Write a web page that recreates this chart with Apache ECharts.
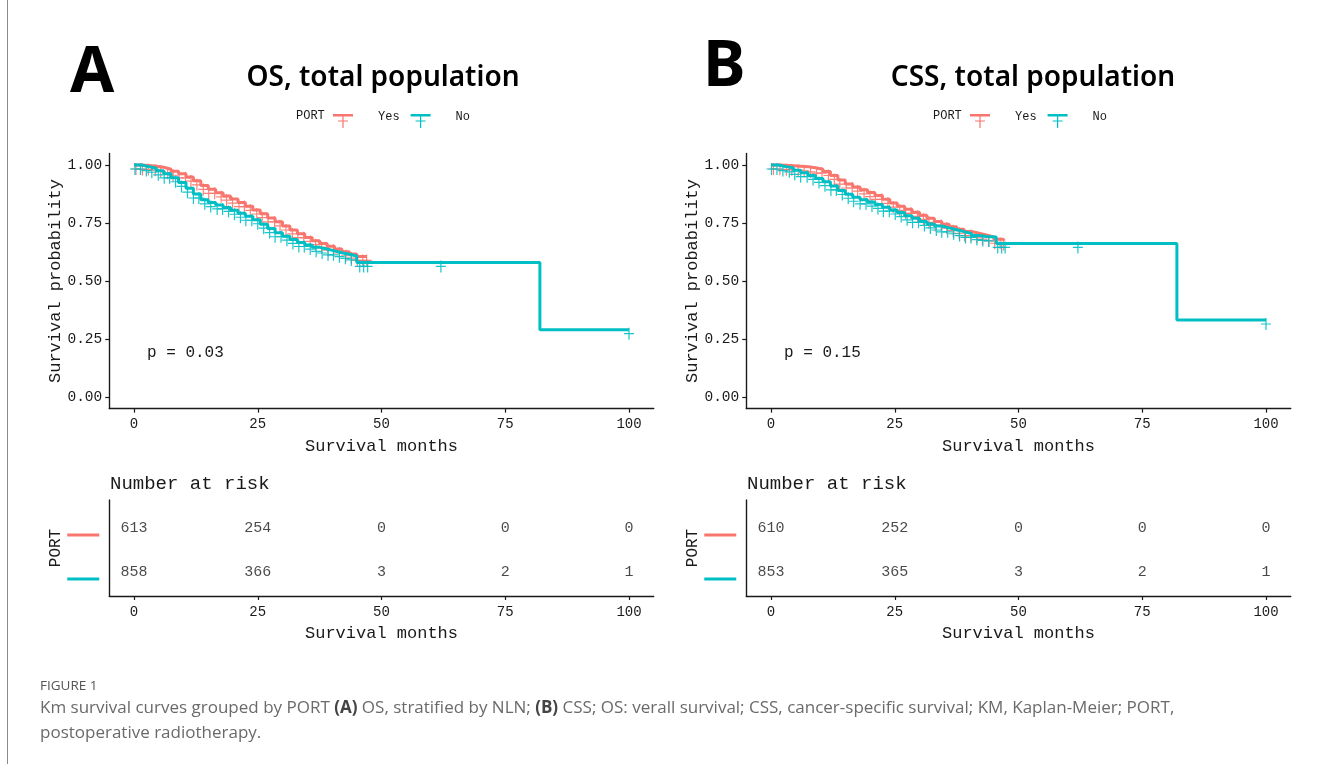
<!DOCTYPE html>
<html><head><meta charset="utf-8">
<script src="https://cdn.jsdelivr.net/npm/echarts@6/dist/echarts.min.js"></script>
<style>html,body{margin:0;padding:0;background:#fff}#c{width:1329px;height:764px}</style>
</head><body><div id="c"></div>
<script>
// ---- data ----
const monthTicks = [0, 25, 50, 75, 100];
const survTicks = [0, 0.25, 0.5, 0.75, 1];
const groups = ['Yes', 'No'];

const osYes = [[0,1],[1.5,0.998],[3,0.995],[4.5,0.99],[6,0.982],[7.5,0.973],[9,0.962],[10.5,0.948],[12,0.932],[13.5,0.912],[15,0.895],[16.5,0.88],[18,0.866],[19.5,0.853],[21,0.838],[22.5,0.822],[24,0.806],[25.5,0.79],[27,0.772],[28.5,0.755],[30,0.737],[31.5,0.72],[33,0.704],[34.5,0.688],[36,0.674],[37.5,0.662],[39,0.65],[40.5,0.638],[42,0.626],[43.5,0.616],[45,0.606],[47,0.606]];
const osNo = [[0,1],[1.5,0.993],[3,0.986],[4.5,0.975],[6,0.962],[7.5,0.945],[9,0.925],[10.5,0.9],[12,0.875],[13.5,0.85],[15,0.838],[16.5,0.828],[18,0.817],[19.5,0.805],[21,0.792],[22.5,0.779],[24,0.764],[25.5,0.745],[27,0.726],[28.5,0.708],[30,0.693],[31.5,0.679],[33,0.666],[34.5,0.655],[36,0.645],[37.5,0.638],[39,0.63],[40.5,0.622],[42,0.615],[43.5,0.608],[45,0.58],[82,0.29],[100,0.29]];
const cssYes = [[0,1],[1.5,0.999],[3,0.997],[4.5,0.995],[6,0.992],[7.5,0.988],[9,0.982],[10.5,0.972],[12,0.955],[13.5,0.935],[15,0.918],[16.5,0.905],[18,0.893],[19.5,0.881],[21,0.869],[22.5,0.852],[24,0.836],[25.5,0.822],[27,0.809],[28.5,0.796],[30,0.783],[31.5,0.77],[33,0.757],[34.5,0.745],[36,0.734],[37.5,0.723],[39,0.713],[40.5,0.706],[42,0.698],[43.5,0.69],[45,0.68],[47,0.674]];
const cssNo = [[0,1],[1.5,0.993],[3,0.988],[4.5,0.977],[6,0.967],[7.5,0.955],[9,0.942],[10.5,0.928],[12,0.91],[13.5,0.89],[15,0.874],[16.5,0.861],[18,0.85],[19.5,0.84],[21,0.83],[22.5,0.818],[24,0.806],[25.5,0.795],[27,0.781],[28.5,0.77],[30,0.757],[31.5,0.746],[33,0.737],[34.5,0.729],[36,0.721],[37.5,0.713],[39,0.705],[40.5,0.696],[42,0.692],[43.5,0.69],[45.5,0.662],[82,0.332],[100,0.332]];

const osYesCensor = [0.4,1.7,2.9,4.3,5.4,6.8,7.9,9.1,10.4,11.5,12.7,14,15.1,16.3,17.6,18.7,19.9,21.2,22.3,23.5,24.8,25.9,27.1,28.4,29.5,30.7,32,33.1,34.3,35.6,36.7,37.9,39.2,40.3,41.5,42.8,43.9,45.1,46.2,47];
const osNoCensor = [0.2,1.3,2.5,3.6,4.9,6.1,7.2,8.4,9.6,10.8,12,13.1,14.3,15.5,16.8,17.9,19.1,20.3,21.5,22.6,23.8,25,26.2,27.4,28.5,29.7,30.9,32.1,33.3,34.4,35.6,36.8,38,39.2,40.3,41.5,42.7,43.9,45.6,46.4,47.2,62,100];
const cssYesCensor = [0.5,1.8,3.1,4.2,5.5,6.7,8,9.2,10.3,11.6,12.8,13.9,15.2,16.4,17.5,18.8,20,21.1,22.4,23.6,24.7,26,27.2,28.3,29.6,30.8,31.9,33.2,34.4,35.5,36.8,38,39.1,40.4,41.6,42.7,44,45.2,46.3,47];
const cssNoCensor = [0.1,1.2,2.4,3.7,4.8,6,7.3,8.5,9.7,10.9,12.1,13.2,14.4,15.6,16.7,18,19.2,20.4,21.6,22.7,23.9,25.1,26.3,27.5,28.6,29.8,31,32.2,33.4,34.5,35.7,36.9,38.1,39.3,40.4,41.6,42.8,44,45.8,46.6,47.3,62,100];

const riskOS = { Yes: [613, 254, 0, 0, 0], No: [858, 366, 3, 2, 1] };
const riskCSS = { Yes: [610, 252, 0, 0, 0], No: [853, 365, 3, 2, 1] };

const pOS = 'p = 0.03';
const pCSS = 'p = 0.15';

// ---- styles ----
const RED = '#F8766D', CYAN = '#00BFC4', INK = '#1a1a1a';
const MONO = 'Liberation Mono';
const PLUS = 'path://M0,5.4L10,5.4L10,6.6L0,6.6Z M4.4,0L5.6,0L5.6,12L4.4,12Z';
const KEY = 'path://M0,0L20,0L20,2.6L0,2.6Z M9.4,0L10.6,0L10.6,14L9.4,14Z M5,6.4L15,6.4L15,7.6L5,7.6Z';

function survAt(curve, t) {
  let s = curve[0][1];
  for (const p of curve) { if (p[0] <= t) s = p[1]; }
  return s;
}

const panels = [
  { dx: 0, curves: { Yes: osYes, No: osNo }, censor: { Yes: osYesCensor, No: osNoCensor }, risk: riskOS },
  { dx: 637, curves: { Yes: cssYes, No: cssNo }, censor: { Yes: cssYesCensor, No: cssNoCensor }, risk: riskCSS }
];

const grid = [], xAxis = [], yAxis = [], series = [];
const axLine = { show: true, onZero: false, lineStyle: { color: INK, width: 1.4 } };
const axTick = { show: true, length: 4, lineStyle: { color: INK, width: 1.2 }, customValues: monthTicks };

panels.forEach((pn, i) => {
  const left = 109.25 + pn.dx;
  grid.push({ left: left, top: 153.4, width: 544.5, height: 255.2, containLabel: false, outerBoundsMode: 'none' });
  grid.push({ left: left, top: 500, width: 544.5, height: 96, containLabel: false, outerBoundsMode: 'none' });
  const gCurve = i * 2, gTab = i * 2 + 1;
  [gCurve, gTab].forEach(g => {
    xAxis.push({
      type: 'value', gridIndex: g, min: -5, max: 105,
      axisLine: axLine, axisTick: axTick, splitLine: { show: false },
      axisLabel: { customValues: monthTicks, margin: 9, color: INK, fontFamily: MONO, fontSize: 14 },
      name: 'Survival months', nameLocation: 'middle', nameGap: 29,
      nameTextStyle: { color: INK, fontFamily: MONO, fontSize: 17 }
    });
  });
  yAxis.push({
    type: 'value', gridIndex: gCurve, min: -0.05, max: 1.05,
    axisLine: axLine, splitLine: { show: false },
    axisTick: { show: true, length: 4, lineStyle: { color: INK, width: 1.2 }, customValues: survTicks },
    axisLabel: { customValues: survTicks, margin: 7, color: INK, fontFamily: MONO, fontSize: 14.5, formatter: v => v.toFixed(2) },
    name: 'Survival probability', nameLocation: 'middle', nameGap: 45,
    nameTextStyle: { color: INK, fontFamily: MONO, fontSize: 17 }
  });
  yAxis.push({
    type: 'value', gridIndex: gTab, min: 0.45, max: 2.64,
    axisLine: axLine, splitLine: { show: false }, axisTick: { show: false },
    axisLabel: {
      customValues: [1, 2], margin: 10, padding: [14, 0, 0, 0],
      formatter: v => v === 2 ? '{r|}' : '{c|}',
      rich: { r: { width: 32, height: 3, backgroundColor: RED }, c: { width: 32, height: 3, backgroundColor: CYAN } }
    },
    name: 'PORT', nameLocation: 'middle', nameGap: 44,
    nameTextStyle: { color: INK, fontFamily: MONO, fontSize: 16 }
  });
  groups.forEach(gname => {
    const col = gname === 'Yes' ? RED : CYAN;
    const curve = pn.curves[gname];
    series.push({
      type: 'line', name: gname, xAxisIndex: gCurve, yAxisIndex: gCurve,
      step: 'end', data: curve, showSymbol: false, symbol: 'none',
      lineStyle: { color: col, width: 3 }, itemStyle: { color: col }, z: 3, silent: true
    });
    series.push({
      type: 'scatter', name: gname + ' censor', xAxisIndex: gCurve, yAxisIndex: gCurve,
      data: pn.censor[gname].map(t => [t, survAt(curve, t)]),
      symbol: PLUS, symbolSize: [10, 12], symbolOffset: [0, 4],
      itemStyle: { color: col, opacity: 0.9 }, z: 2, silent: true
    });
  });
  const tab = [];
  groups.forEach((gname, gi) => {
    pn.risk[gname].forEach((n, k) => tab.push([monthTicks[k], gi === 0 ? 2 : 1, n]));
  });
  series.push({
    type: 'scatter', name: 'risk', xAxisIndex: gTab, yAxisIndex: gTab, data: tab,
    symbolSize: 1, itemStyle: { color: 'rgba(0,0,0,0)' }, silent: true,
    label: { show: true, position: 'inside', formatter: p => String(p.value[2]), color: INK, fontFamily: MONO, fontSize: 15 }
  });
});

const legendCommon = {
  orient: 'horizontal', itemWidth: 20, itemHeight: 14, itemGap: 11, selectedMode: false, padding: 0,
  data: [{ name: 'Yes', icon: KEY }, { name: 'No', icon: KEY }],
  formatter: n => '{a|' + n + '}',
  textStyle: { rich: { a: { fontFamily: MONO, fontSize: 12, color: INK, padding: [0, 0, 8, 20] } } }
};
const legend = [
  Object.assign({ left: 333, top: 111 }, legendCommon),
  Object.assign({ left: 970, top: 111 }, legendCommon)
];

function txt(x, y, text, font, fill, align, rich) {
  const st = { text: text, font: font, fill: fill || INK, align: align || 'left', verticalAlign: 'middle' };
  if (rich) st.rich = rich;
  return { type: 'text', x: x, y: y, silent: true, style: st };
}
const capRich = { b: { font: 'bold 17px "Open Sans"', fill: '#444' } };

const graphic = [
  { type: 'line', shape: { x1: 7.5, y1: 0, x2: 7.5, y2: 764 }, style: { stroke: '#8a8a8a', lineWidth: 1 }, silent: true },
  txt(70, 74, 'A', 'bold 64px "Noto Sans"', '#000'),
  txt(703, 68, 'B', 'bold 64px "Noto Sans"', '#000'),
  txt(383, 78, 'OS, total population', '600 28px "Noto Sans"', '#000', 'center'),
  txt(1033, 78, 'CSS, total population', '600 28px "Noto Sans"', '#000', 'center'),
  txt(296, 116, 'PORT', '12px "Liberation Mono"'),
  txt(933, 116, 'PORT', '12px "Liberation Mono"'),
  txt(147, 353, pOS, '16px "Liberation Mono"'),
  txt(784, 353, pCSS, '16px "Liberation Mono"'),
  txt(110, 484, 'Number at risk', '19px "Liberation Mono"'),
  txt(747, 484, 'Number at risk', '19px "Liberation Mono"'),
  txt(40, 686, 'FIGURE 1', '13.5px "Open Sans"', '#555'),
  txt(40, 708, 'Km survival curves grouped by PORT {b|(A)} OS, stratified by NLN; {b|(B)} CSS; OS: verall survival; CSS, cancer-specific survival; KM, Kaplan-Meier; PORT,', '17px "Open Sans"', '#6a6a6a', 'left', capRich),
  txt(40, 733, 'postoperative radiotherapy.', '17px "Open Sans"', '#6a6a6a')
];

const chart = echarts.init(document.getElementById('c'), null, { renderer: 'canvas' });
chart.setOption({ animation: false, backgroundColor: '#fff', grid, xAxis, yAxis, series, legend, graphic });
</script></body></html>
